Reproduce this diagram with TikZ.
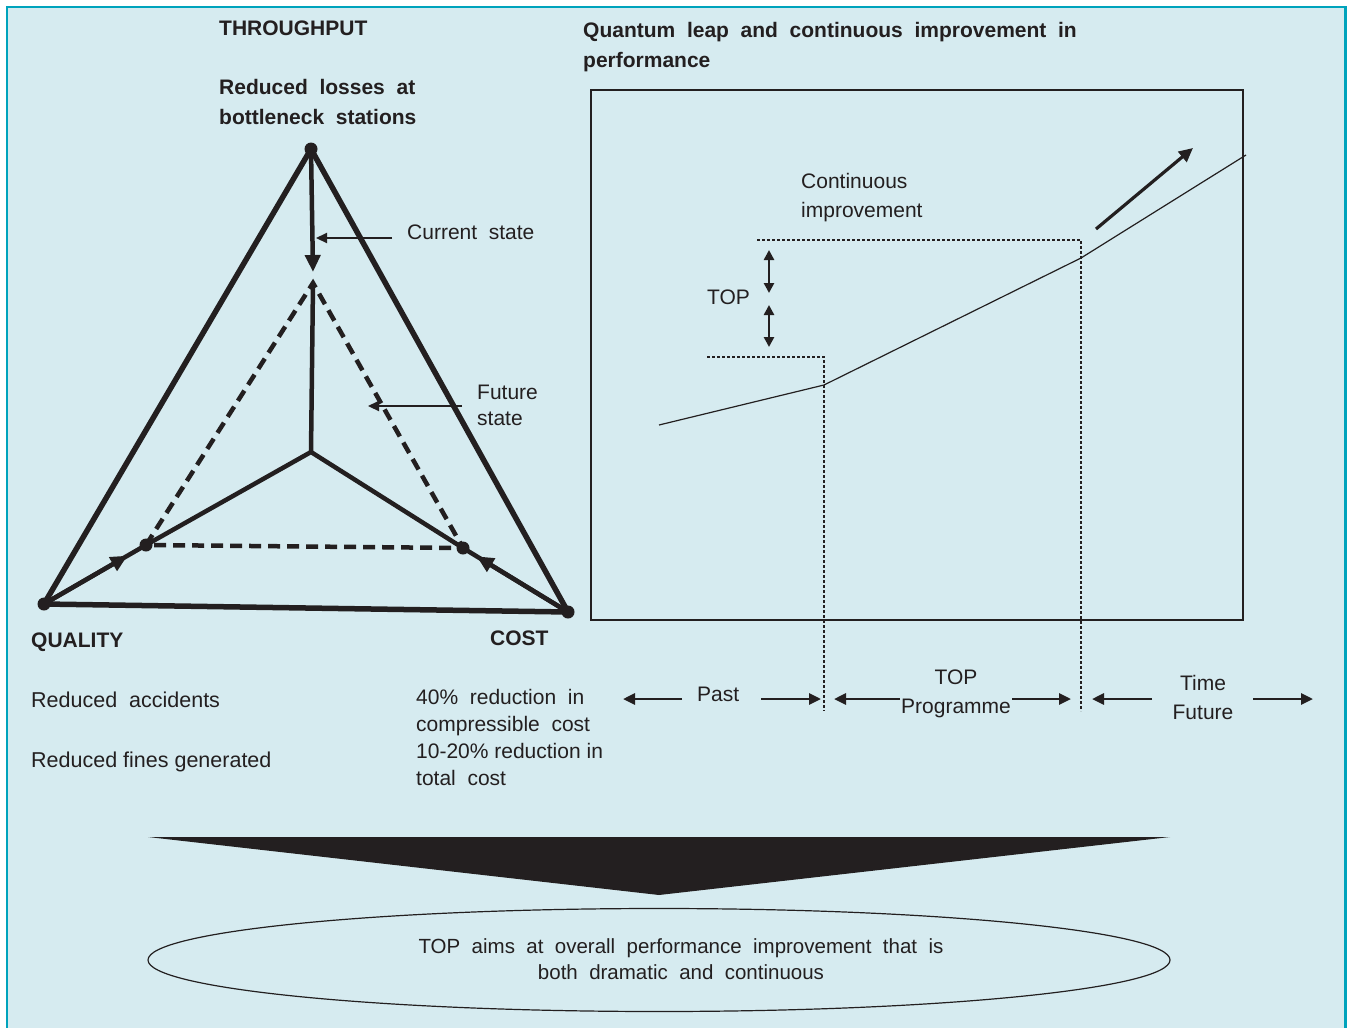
\documentclass[tikz,border=0pt]{standalone}
\usepackage{fontspec}
\setmainfont{Liberation Sans}
\usetikzlibrary{arrows.meta,calc,shapes.geometric}
\definecolor{Ink}{HTML}{231F20}
\definecolor{Panel}{HTML}{D6EBF0}
\definecolor{Rim}{HTML}{00A3BC}

\begin{document}
\begin{tikzpicture}[x=1pt,y=-1pt,
  lbl/.style={anchor=north west,inner sep=0pt,text=Ink,align=left,font=\fontsize{21}{27}\selectfont},
  head/.style={lbl,font=\fontsize{21}{30}\selectfont\bfseries},
  frame/.style={draw=Ink,line width=5.5pt,line join=round},
  spoke/.style={draw=Ink,line width=4.5pt},
  future/.style={draw=Ink,line width=4.5pt,dash pattern=on 12pt off 7pt},
  ptr/.style={draw=Ink,line width=2.2pt,-{Triangle[length=11pt,width=10pt]}},
  tl/.style={draw=Ink,line width=2.8pt,-{Triangle[length=12pt,width=11pt]}},
  guide/.style={draw=Ink,line width=2.6pt,dash pattern=on 2.6pt off 2.4pt},
  dot/.style={circle,fill=Ink,inner sep=0pt,minimum size=13pt}
]
  \useasboundingbox (0,0) rectangle (1347,1028);
  \fill[white] (0,0) rectangle (1347,1028);
  \fill[Panel] (7,7) rectangle (1347,1028);
  \draw[Rim,line width=2.5pt] (7,1030) -- (7,7) -- (1345.5,7) -- (1345.5,1030);

  % triangle: current and future state
  \coordinate (thr) at (311,149);
  \coordinate (qual) at (44,604);
  \coordinate (cost) at (568,612);
  \coordinate (hub) at (311,452);
  \coordinate (apex) at (313,283);
  \coordinate (now) at (313,272);
  \coordinate (fq) at (146,545);
  \coordinate (fc) at (463,548);

  \draw[frame] (thr) -- (qual) -- (cost) -- cycle;
  \draw[future] (fq) -- (apex) -- (fc) -- cycle;
  \draw[spoke] (qual) -- (fq) -- (hub) -- (fc) -- (cost);
  \draw[spoke] (hub) -- (apex);
  \draw[spoke,-{Triangle[length=17pt,width=15pt]}] (thr) -- (now);
  \draw[spoke,-{Triangle[length=17pt,width=15pt]}] (qual) -- ($(qual)!0.82!(fq)$);
  \draw[spoke,-{Triangle[length=17pt,width=15pt]}] (cost) -- ($(cost)!0.87!(fc)$);
  \foreach \p in {thr,qual,cost,fq,fc}
    \node[dot] (d\p) at (\p) {};

  \node[head] (tput) at (219,21) {THROUGHPUT};
  \node[head] (loss) at (219,79) {Reduced\ \ losses\ \ at\\bottleneck\ \ stations};
  \node[head] (qlab) at (31,633) {QUALITY};
  \node[head] (clab) at (490,631) {COST};

  \node[lbl] (cur) at (407,225) {Current\ \ state};
  \coordinate (curtail) at (392,238);
  \coordinate (curtip) at (316,238);
  \draw[ptr] (curtail) -- (curtip);
  \node[lbl,font=\fontsize{21}{26}\selectfont] (fut) at (477,385) {Future\\state};
  \coordinate (futtail) at (462,406);
  \coordinate (futtip) at (368,406);
  \draw[ptr] (futtail) -- (futtip);

  \node[lbl,font=\fontsize{21.5}{27}\selectfont] (acc) at (31,692) {Reduced\ \ accidents};
  \node[lbl,font=\fontsize{21.5}{27}\selectfont] (fines) at (31,752) {Reduced fines generated};
  \node[lbl] (save) at (416,689) {40\%\ \ reduction\ \ in\\compressible\ \ cost\\10-20\% reduction in\\total\ \ cost};

  % performance over time
  \node[head] (leap) at (583,22) {Quantum\ \ leap\ \ and\ \ continuous\ \ improvement\ \ in\\performance};
  \draw[Ink,line width=1.5pt] (591,90) rectangle (1243,620);
  \coordinate (k0) at (659,425);
  \coordinate (k1) at (824,385);
  \coordinate (k2) at (1081,258);
  \coordinate (k3) at (1246,155);
  \draw[Ink,line width=1.2pt] (k0) -- (k1) -- (k2) -- (k3);
  \coordinate (jumpa) at (1096,229);
  \coordinate (jumpb) at (1193,148);
  \draw[Ink,line width=3.2pt,-{Triangle[length=14pt,width=13pt]}] (jumpa) -- (jumpb);
  \draw[guide] (707,357) -- (824,357) -- (824,711);
  \draw[guide] (757,240) -- (1081,240) -- (1081,711);
  \node[lbl,font=\fontsize{21}{29}\selectfont] (ci) at (801,173) {Continuous\\improvement};
  \node[lbl] (gap) at (707,290) {TOP};
  \draw[Ink,line width=2.6pt,{Triangle[length=10pt,width=10pt]}-{Triangle[length=10pt,width=10pt]}] (769,250) -- (769,293);
  \draw[Ink,line width=2.6pt,{Triangle[length=10pt,width=10pt]}-{Triangle[length=10pt,width=10pt]}] (769,305) -- (769,347);

  % time line
  \node[lbl] (past) at (697,687) {Past};
  \node[lbl,anchor=north,align=center,font=\fontsize{21}{29}\selectfont] (prog) at (956,670) {TOP\\Programme};
  \node[lbl,anchor=north,align=center,font=\fontsize{21}{29}\selectfont] (fut2) at (1203,675) {Time\\Future};
  \coordinate (pa1) at (682,699); \coordinate (pa2) at (623,699);
  \coordinate (pb1) at (761,699); \coordinate (pb2) at (821,699);
  \coordinate (ta1) at (900,699); \coordinate (ta2) at (834,699);
  \coordinate (tb1) at (1012,699); \coordinate (tb2) at (1071,699);
  \coordinate (fa1) at (1152,699); \coordinate (fa2) at (1092,699);
  \coordinate (fb1) at (1253,699); \coordinate (fb2) at (1313,699);
  \foreach \a/\b in {pa1/pa2,pb1/pb2,ta1/ta2,tb1/tb2,fa1/fa2,fb1/fb2}
    \draw[tl] (\a) -- (\b);

  % conclusion
  \fill[Ink] (148,837) -- (1170,837) -- (659,895) -- cycle;
  \node[ellipse,draw=Ink,line width=1.2pt,minimum width=1022pt,minimum height=103pt,inner sep=0pt] (aim) at (659,960) {};
  \node[lbl,anchor=north,align=center,font=\fontsize{20.5}{26}\selectfont] (aimtxt) at (681,938) {TOP\ \ aims\ \ at\ \ overall\ \ performance\ \ improvement\ \ that\ \ is\\both\ \ dramatic\ \ and\ \ continuous};
\end{tikzpicture}
\end{document}
